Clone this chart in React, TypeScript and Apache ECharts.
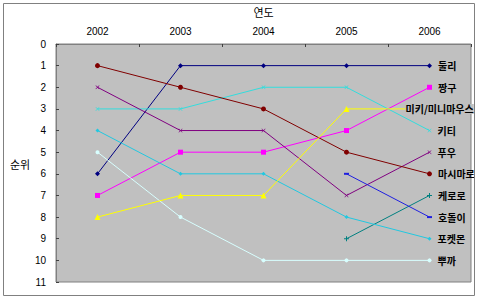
import React, { useEffect, useRef } from "react";
import * as echarts from "echarts";

const years = ["2002", "2003", "2004", "2005", "2006"];
const names = ["둘리", "짱구", "미키/미니마우스", "키티", "푸우", "마시마로", "케로로", "호돌이", "포켓몬", "뿌까"];
const dooly = [6, 1, 1, 1, 1];
const jjanggu = [7, 5, 5, 4, 2];
const mickey = [8, 7, 7, 3, 3];
const kitty = [3, 3, 2, 2, 4];
const pooh = [2, 4, 4, 7, 5];
const mashimaro = [1, 2, 3, 5, 6];
const keroro = [null, null, null, 9, 7];
const hodori = [null, null, null, 6, 8];
const pokemon = [4, 6, 6, 8, 9];
const pucca = [5, 8, 10, 10, 10];
const rankTicks = [0, 1, 2, 3, 4, 5, 6, 7, 8, 9, 10, 11];

const seriesValues = [dooly, jjanggu, mickey, kitty, pooh, mashimaro, keroro, hodori, pokemon, pucca];
const colors = ["#000080", "#FF00FF", "#FFFF00", "#33DDDD", "#800080", "#800000", "#008080", "#2020E0", "#22C8E0", "#D8FFFF"];

const X = "path://M0,1L1,0L5,4L9,0L10,1L6,5L10,9L9,10L5,6L1,10L0,9L4,5Z";
const PLUS = "path://M4,0H6V4H10V6H6V10H4V6H0V4H4Z";
const symbols = ["diamond", "rect", "triangle", X, X, "circle", PLUS, "rect", "diamond", "circle"];
const sizes: any[] = [5, 5, 6, 4, 4, 5, 5, [5, 2], 4, 4];

const FONT = "'Liberation Sans', 'Noto Sans CJK KR', sans-serif";

export default function App() {
  const ref = useRef<HTMLDivElement>(null);
  useEffect(() => {
    if (!ref.current) return;
    const chart = echarts.init(ref.current, null, { renderer: "svg" });
    const series = seriesValues.map((vals, si) => ({
      name: names[si],
      type: "line",
      data: vals.map((v, i) => {
        if (v === null) return "-";
        if (i === vals.length - 1) {
          const isMickey = si === 2;
          return {
            value: v,
            label: {
              show: true,
              formatter: names[si],
              position: "right",
              distance: isMickey ? 0 : 6,
              offset: isMickey ? [-27, 0] : [0, 0],
              color: "#000",
              fontSize: 10,
              fontWeight: "bold",
              fontFamily: "'Noto Sans CJK KR', sans-serif",
              backgroundColor: isMickey ? "#C0C0C0" : "transparent",
              padding: 0,
            },
          };
        }
        return v;
      }),
      symbol: symbols[si],
      symbolSize: sizes[si],
      showAllSymbol: true,
      lineStyle: { color: colors[si], width: 1 },
      itemStyle: { color: colors[si] },
      z: si === 2 ? 5 : 2,
    }));
    chart.setOption({
      animation: false,
      grid: {
        left: 56,
        top: 44,
        right: 9,
        bottom: 17,
        show: true,
        backgroundColor: "#C0C0C0",
        borderColor: "#808080",
        borderWidth: 1,
        containLabel: false,
      },
      graphic: [
        {
          type: "rect",
          shape: { x: 3.5, y: 3.5, width: 471, height: 292 },
          style: { fill: "none", stroke: "#808080", lineWidth: 1 },
          z: 100,
        },
        {
          type: "text",
          x: 20,
          y: 164,
          style: {
            text: "순위",
            fill: "#000",
            fontSize: 11,
            fontFamily: "'Noto Sans CJK KR', sans-serif",
            align: "center",
            verticalAlign: "middle",
          },
        },
      ],
      xAxis: {
        type: "category",
        position: "top",
        data: years,
        boundaryGap: true,
        name: "연도",
        nameLocation: "middle",
        nameGap: 27,
        nameTextStyle: { fontFamily: "'Noto Sans CJK KR', sans-serif", fontSize: 11, color: "#000" },
        axisLine: { show: true, lineStyle: { color: "#808080" } },
        axisTick: { show: true, inside: true, length: 3, lineStyle: { color: "#404040" } },
        axisLabel: { fontFamily: FONT, fontSize: 10, color: "#000", margin: 8 },
        splitLine: { show: false },
      },
      yAxis: {
        type: "value",
        inverse: true,
        min: 0,
        max: 11,
        interval: 1,
        axisLine: { show: true, lineStyle: { color: "#808080" } },
        axisTick: { show: true, inside: true, length: 3, lineStyle: { color: "#404040" } },
        axisLabel: {
          fontFamily: FONT,
          fontSize: 10,
          color: "#000",
          margin: 10,
          formatter: (v: number) => (rankTicks.includes(v) ? String(v) : ""),
        },
        splitLine: { show: false },
      },
      series,
    });
    return () => chart.dispose();
  }, []);
  return (
    <div
      ref={ref}
      style={{ position: "fixed", left: 0, top: 0, width: 480, height: 299, background: "#fff" }}
    />
  );
}
